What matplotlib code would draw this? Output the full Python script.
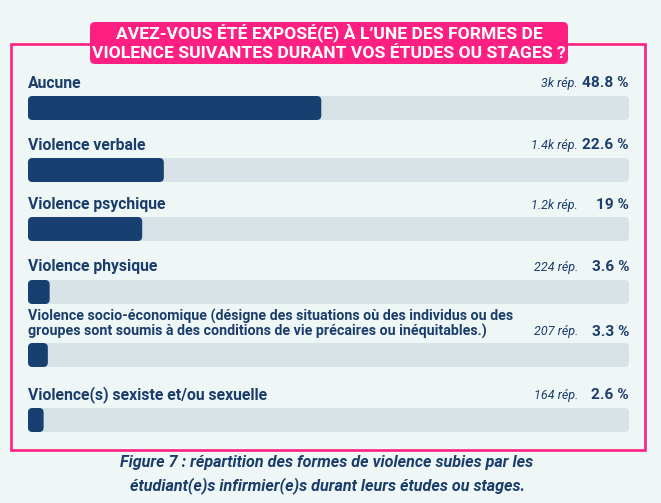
import matplotlib
matplotlib.use("Agg")
import matplotlib.pyplot as plt
from matplotlib.patches import FancyBboxPatch, Rectangle

# ---- data ----
categories = [
    "Aucune",
    "Violence verbale",
    "Violence psychique",
    "Violence physique",
    "Violence socio-économique (désigne des situations où des individus ou des\ngroupes sont soumis à des conditions de vie précaires ou inéquitables.)",
    "Violence(s) sexiste et/ou sexuelle",
]
percents = [48.8, 22.6, 19, 3.6, 3.3, 2.6]
percent_labels = ["48.8 %", "22.6 %", "19 %", "3.6 %", "3.3 %", "2.6 %"]
responses = ["3k rép.", "1.4k rép.", "1.2k rép.", "224 rép.", "207 rép.", "164 rép."]
title_lines = ["AVEZ-VOUS ÉTÉ EXPOSÉ(E) À L\u2019UNE DES FORMES DE",
               "VIOLENCE SUIVANTES DURANT VOS ÉTUDES OU STAGES ?"]
caption_lines = ["Figure 7 : répartition des formes de violence subies par les",
                 "étudiant(e)s infirmier(e)s durant leurs études ou stages."]

# ---- style ----
W, H = 661, 503
BG = "#eef7f6"
NAVY = "#1b3d6b"
BAR = "#173f70"
TRACK = "#d8e3e8"
PINK = "#fe1f82"
FONT = ["Roboto", "DejaVu Sans"]

fig = plt.figure(figsize=(W / 100, H / 100), dpi=100, facecolor=BG)

# overlay axes in pixel coordinates for decoration
ov = fig.add_axes([0, 0, 1, 1])
ov.set_xlim(0, W)
ov.set_ylim(H, 0)
ov.axis("off")
ov.patch.set_alpha(0)

# pink frame
ov.add_patch(Rectangle((11, 44), 634, 406, fill=False, edgecolor=PINK, lw=1.9, zorder=1))

# bars axes: x in percent, y in pixel rows
x0, x1 = 28, 629
ax = fig.add_axes([x0 / W, 0, (x1 - x0) / W, 1])
ax.set_xlim(0, 100)
ax.set_ylim(H, 0)
ax.axis("off")
ax.patch.set_alpha(0)

px_per_x = (x1 - x0) / 100.0
aspect = px_per_x  # px per x-unit / px per y-unit (1)

bar_tops = [96, 158, 217, 280, 343, 408]
label_y = [83, 145, 205, 267, 324, 395]
bar_h = 24
r = 4.5 / px_per_x

for i, cat in enumerate(categories):
    top = bar_tops[i]
    ax.add_patch(FancyBboxPatch((0, top), 100, bar_h,
                                boxstyle=f"round,pad=0,rounding_size={r}",
                                mutation_aspect=aspect, fc=TRACK, ec="none", zorder=2))
    ax.add_patch(FancyBboxPatch((0, top), percents[i], bar_h,
                                boxstyle=f"round,pad=0,rounding_size={min(r, percents[i] / 2)}",
                                mutation_aspect=aspect, fc=BAR, ec="none", zorder=3))
    multiline = "\n" in cat
    ax.text(0, label_y[i], cat, ha="left", va="center", color=NAVY,
            fontsize=10.3 if multiline else 11.3, fontweight="bold", family=FONT,
            linespacing=1.0)
    ry = label_y[i] + (8 if multiline else 0)
    ax.text(100, ry, percent_labels[i], ha="right", va="center", color=NAVY,
            fontsize=11.1, fontweight="bold", family=FONT)
    ax.text(91.5, ry, responses[i], ha="right", va="center", color=NAVY,
            fontsize=9, fontstyle="italic", family=FONT)

# title box
ov.add_patch(FancyBboxPatch((90, 22), 478, 42,
                            boxstyle="round,pad=0,rounding_size=5",
                            fc=PINK, ec="none", zorder=5))
ov.text(329, 33, title_lines[0], ha="center", va="center", color="white",
        fontsize=12.6, fontweight="bold", family=FONT, zorder=6)
ov.text(329, 53.5, title_lines[1], ha="center", va="center", color="white",
        fontsize=12.6, fontweight="bold", family=FONT, zorder=6)

# caption
ov.text(327, 463, caption_lines[0], ha="center", va="center", color=NAVY,
        fontsize=11.6, fontweight="bold", fontstyle="italic", family=FONT)
ov.text(327, 486, caption_lines[1], ha="center", va="center", color=NAVY,
        fontsize=11.6, fontweight="bold", fontstyle="italic", family=FONT)

fig.savefig("out.png", dpi=100, facecolor=BG)
